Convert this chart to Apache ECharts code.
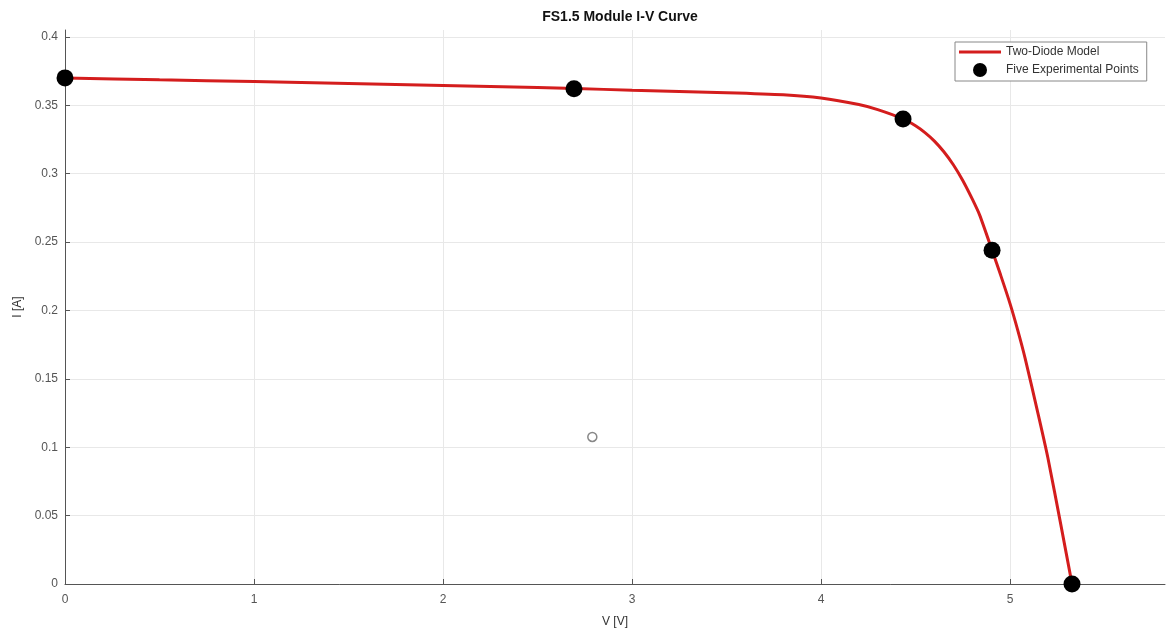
<!DOCTYPE html>
<html>
<head>
<meta charset="utf-8">
<script src="https://cdn.jsdelivr.net/npm/echarts@6/dist/echarts.min.js"></script>
<style>html,body{margin:0;padding:0;background:#fff;}#c{width:1170px;height:634px;}</style>
</head>
<body>
<div id="c"></div>
<script>
var chartTitle = 'FS1.5 Module I-V Curve';
var xName = 'V [V]';
var yName = 'I [A]';
var modelName = 'Two-Diode Model';
var pointsName = 'Five Experimental Points';

var modelV = [0, 0.5, 1.0, 1.5, 2.0, 2.5, 2.7, 3.0, 3.5, 3.8, 4.0, 4.2, 4.3, 4.434, 4.5, 4.55, 4.6, 4.65, 4.7, 4.75, 4.8, 4.84, 4.905, 4.95, 5.0, 5.04, 5.08, 5.15, 5.2, 5.27, 5.328];
var modelI = [0.370, 0.3686, 0.3673, 0.3659, 0.3645, 0.3630, 0.3622, 0.3610, 0.3592, 0.3577, 0.3553, 0.3505, 0.3468, 0.3400, 0.3350, 0.3300, 0.3238, 0.3160, 0.3065, 0.2950, 0.2815, 0.2695, 0.2440, 0.2260, 0.2050, 0.1860, 0.1650, 0.1235, 0.0925, 0.0425, 0.0];

var expV = [0, 2.693, 4.434, 4.905, 5.328];
var expI = [0.370, 0.362, 0.340, 0.244, 0.0];

var strayV = [2.79];
var strayI = [0.1075];

var xTicks = [0, 1, 2, 3, 4, 5];
var yTicks = [0, 0.05, 0.1, 0.15, 0.2, 0.25, 0.3, 0.35, 0.4];

function zip(a, b) { return a.map(function (v, i) { return [v, b[i]]; }); }

var chart = echarts.init(document.getElementById('c'), null, {renderer: 'canvas'});
var font = 'Liberation Sans, Arial, sans-serif';
chart.setOption({
  animation: false,
  backgroundColor: '#ffffff',
  title: {
    text: chartTitle, left: 615, top: 5, textAlign: 'center',
    textStyle: {fontFamily: font, fontSize: 14, fontWeight: 'bold', color: '#111'}
  },
  grid: {left: 65, right: 5, top: 30, bottom: 50, containLabel: false},
  legend: {
    orient: 'vertical', left: 955, top: 42,
    data: [
      {name: modelName, icon: 'path://M0,0 L42,0 L42,3 L0,3 Z'},
      {name: pointsName, icon: 'circle'}
    ],
    itemWidth: 42, itemHeight: 14, itemGap: 5,
    padding: [4, 8, 4, 4],
    borderColor: '#888', borderWidth: 1, backgroundColor: '#fff',
    textStyle: {fontFamily: font, fontSize: 12, color: '#333'}
  },
  xAxis: {
    type: 'value', min: 0, max: 5.82, interval: 1,
    name: xName, nameLocation: 'middle', nameGap: 32,
    nameTextStyle: {fontFamily: font, fontSize: 12, color: '#333'},
    axisLine: {show: true, onZero: false, lineStyle: {color: '#555', width: 1}},
    axisTick: {show: true, inside: true, length: 5, lineStyle: {color: '#555'}, customValues: xTicks},
    axisLabel: {fontFamily: font, fontSize: 12, color: '#555', margin: 10, customValues: xTicks},
    splitLine: {show: true, lineStyle: {color: '#e8e8e8', width: 1}}
  },
  yAxis: {
    type: 'value', min: 0, max: 0.405, interval: 0.05,
    name: yName, nameLocation: 'middle', nameGap: 39, nameRotate: 90,
    nameTextStyle: {fontFamily: font, fontSize: 12, color: '#333'},
    axisLine: {show: true, onZero: false, lineStyle: {color: '#555', width: 1}},
    axisTick: {show: true, inside: true, length: 5, lineStyle: {color: '#555'}, customValues: yTicks},
    axisLabel: {fontFamily: font, fontSize: 12, color: '#555', margin: 7, customValues: yTicks},
    splitLine: {show: true, lineStyle: {color: '#e8e8e8', width: 1}}
  },
  series: [
    {
      name: modelName, type: 'line', data: zip(modelV, modelI),
      smooth: 0.2, symbol: 'none', showSymbol: false,
      lineStyle: {color: '#d41d1d', width: 3},
      itemStyle: {color: '#d41d1d'}, z: 2
    },
    {
      name: pointsName, type: 'scatter', data: zip(expV, expI),
      symbol: 'circle', symbolSize: 17,
      itemStyle: {color: '#000', opacity: 1}, z: 3
    },
    {
      name: 'stray', type: 'scatter', data: zip(strayV, strayI),
      symbol: 'circle', symbolSize: 9,
      itemStyle: {color: '#ffffff', borderColor: '#888888', borderWidth: 1.5, opacity: 1}, z: 3
    }
  ]
});
</script>
</body>
</html>
